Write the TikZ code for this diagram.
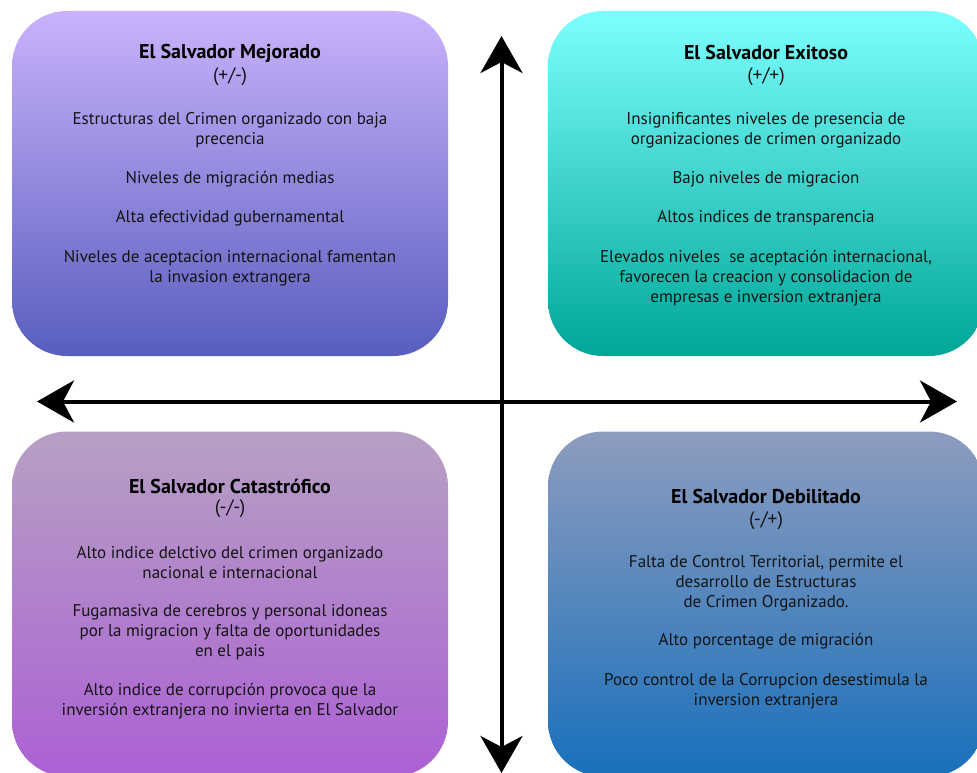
\documentclass[tikz,border=0pt]{standalone}
\usepackage{fontspec}
\setmainfont{PT Sans}
\usetikzlibrary{arrows.meta}
\definecolor{tlTop}{RGB}{202,178,252}
\definecolor{tlBot}{RGB}{88,94,190}
\definecolor{trTop}{RGB}{124,255,255}
\definecolor{trBot}{RGB}{0,166,152}
\definecolor{blTop}{RGB}{182,160,196}
\definecolor{blMid}{RGB}{179,150,198}
\definecolor{blBot}{RGB}{172,96,212}
\definecolor{brTop}{RGB}{142,156,190}
\definecolor{brBot}{RGB}{24,112,188}
\definecolor{ink}{RGB}{20,20,20}
\tikzset{
  quad/.style={rectangle, rounded corners=55pt, minimum width=436pt, minimum height=345pt, inner sep=0pt, draw=none},
  ttl/.style={font=\fontsize{20}{22}\selectfont\bfseries, text=black, inner sep=0pt},
  sub/.style={font=\fontsize{19.5}{22}\selectfont, text=ink, inner sep=0pt},
  body/.style={font=\fontsize{17}{20}\selectfont, text=ink, align=center, inner sep=0pt},
  axisline/.style={line width=4pt, black, {Stealth[length=37pt,width=42pt,inset=11pt]}-{Stealth[length=37pt,width=42pt,inset=11pt]}}
}
\begin{document}
\begin{tikzpicture}[x=1pt,y=-1pt]
\useasboundingbox (0,0) rectangle (977,773);
\clip (0,0) rectangle (977,773);
% boxes
\node[quad, top color=tlTop, bottom color=tlBot] (tl) at (230,183.5) {};
\node[quad, top color=trTop, bottom color=trBot] (tr) at (766,183.5) {};
\node[quad, top color=blTop, middle color=blMid, bottom color=blBot] (bl) at (230,604) {};
\node[quad, top color=brTop, bottom color=brBot] (br) at (766,604) {};
% axes
\coordinate (vtop) at (501.5,36);
\coordinate (vbot) at (501.5,773);
\coordinate (hleft) at (37,401.5);
\coordinate (hright) at (957,401.5);
\draw[axisline] (vbot) -- (vtop);
\draw[axisline] (hleft) -- (hright);
% TL texts
\node[ttl] (tlt) at (230,53) {El Salvador Mejorado};
\node[sub] (tls) at (230,77) {(+/-)};
\node[body] (tl1) at (230,130) {Estructuras del Crimen organizado con baja\\precencia};
\node[body] (tl2) at (230,179) {Niveles de migración medias};
\node[body] (tl3) at (230,218) {Alta efectividad gubernamental};
\node[body] (tl4) at (230,268) {Niveles de aceptacion internacional famentan\\la invasion extrangera};
% TR texts
\node[ttl] (trt) at (766,53) {El Salvador Exitoso};
\node[sub] (trs) at (766,77) {(+/+)};
\node[body] (tr1) at (766,130) {Insignificantes niveles de presencia de\\organizaciones de crimen organizado};
\node[body] (tr2) at (766,179) {Bajo niveles de migracion};
\node[body] (tr3) at (766,218) {Altos indices de transparencia};
\node[body] (tr4) at (766,278) {Elevados niveles\ \ se aceptación internacional,\\favorecen la creacion y consolidacion de\\empresas e inversion extranjera};
% BL texts
\node[ttl] (blt) at (230,486) {El Salvador Catastrófico};
\node[sub] (bls) at (230,509) {(-/-)};
\node[body] (bl1) at (230,563) {Alto indice delctivo del crimen organizado\\nacional e internacional};
\node[body] (bl2) at (230,632) {Fugamasiva de cerebros y personal idoneas\\por la migracion y falta de oportunidades\\en el pais};
\node[body] (bl3) at (230,701) {Alto indice de corrupción provoca que la\\inversión extranjera no invierta en El Salvador};
% BR texts
\node[ttl] (brt) at (766,496) {El Salvador Debilitado};
\node[sub] (brs) at (766,521) {(-/+)};
\node[body] (br1) at (766,583) {Falta de Control Territorial, permite el\\desarrollo de Estructuras\\de Crimen Organizado.};
\node[body] (br2) at (766,641) {Alto porcentage de migración};
\node[body] (br3) at (766,691) {Poco control de la Corrupcion desestimula la\\inversion extranjera};
\end{tikzpicture}
\end{document}
